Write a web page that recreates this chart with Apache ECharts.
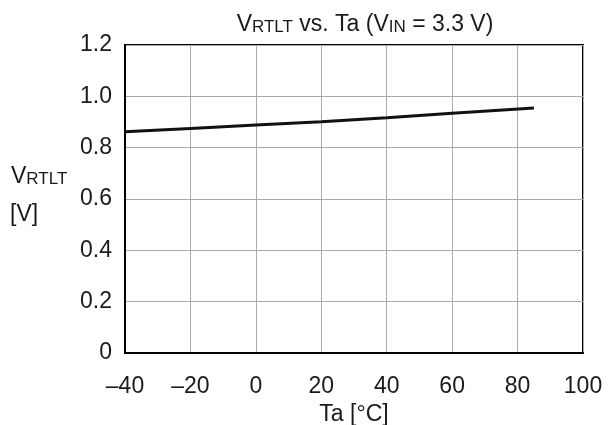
<!DOCTYPE html>
<html><head><meta charset="utf-8">
<script src="https://cdn.jsdelivr.net/npm/echarts@6/dist/echarts.min.js"></script>
<style>html,body{margin:0;padding:0;background:#fff}#c{width:616px;height:425px}</style>
</head><body><div id="c"></div>
<script>
var temps = [-40, -20, 0, 20, 40, 60, 85];
var vrtlt = [0.862, 0.875, 0.888, 0.901, 0.917, 0.934, 0.955];
var xTicks = [-40, -20, 0, 20, 40, 60, 80, 100];
var yTicks = [0, 0.2, 0.4, 0.6, 0.8, 1.0, 1.2];
var F = 'Liberation Sans, Arial, sans-serif';
var C = '#1a1a1a';
var chart = echarts.init(document.getElementById('c'));
chart.setOption({
  animation: false,
  title: {
    text: '{a|V}{s|RTLT}{a| vs. Ta (V}{s|IN}{a| = 3.3 V)}',
    left: 360, textAlign: 'center', top: 4,
    textStyle: { fontWeight: 'normal', rich: {
      a: { fontFamily: F, fontSize: 23, fontWeight: 'normal', color: C, verticalAlign: 'bottom', lineHeight: 27 },
      s: { fontFamily: F, fontSize: 17, fontWeight: 'normal', color: C, verticalAlign: 'bottom', lineHeight: 24 }
    } }
  },
  grid: { left: 125, right: 33, top: 45, bottom: 72, containLabel: false, outerBoundsMode: 'none',
    show: true, borderColor: '#000', borderWidth: 2, backgroundColor: 'transparent' },
  xAxis: {
    type: 'value', min: -40, max: 100, interval: 20,
    name: 'Ta [°C]', nameLocation: 'middle', nameGap: 43,
    nameTextStyle: { fontFamily: F, fontSize: 23, color: C },
    axisLine: { onZero: false, lineStyle: { color: '#000', width: 2 } },
    axisTick: { show: false },
    splitLine: { lineStyle: { color: '#aaa', width: 1 } },
    axisLabel: { fontFamily: F, fontSize: 23, color: C, margin: 22,
      formatter: function (v) { return String(v).replace('-', '\u2013'); } }
  },
  yAxis: {
    type: 'value', min: 0, max: 1.2, interval: 0.2,
    axisLine: { onZero: false, lineStyle: { color: '#000', width: 2 } },
    axisTick: { show: false },
    splitLine: { lineStyle: { color: '#aaa', width: 1 } },
    axisLabel: { fontFamily: F, fontSize: 23, color: C, margin: 13,
      formatter: function (v) { return v === 0 ? '0' : v.toFixed(1); } }
  },
  graphic: [
    { type: 'text', left: 11, top: 165, style: { text: '{a|V}{s|RTLT}', rich: {
      a: { fontFamily: F, fontSize: 23, fill: C, verticalAlign: 'bottom', lineHeight: 27 },
      s: { fontFamily: F, fontSize: 17, fill: C, verticalAlign: 'bottom', lineHeight: 24 } } } },
    { type: 'text', left: 10, top: 203, style: { text: '[V]', fontFamily: F, fontSize: 23, fill: C } }
  ],
  series: [{
    type: 'line', showSymbol: false, smooth: false,
    data: temps.map(function (t, i) { return [t, vrtlt[i]]; }),
    lineStyle: { color: '#111', width: 3 }
  }]
});
</script></body></html>
